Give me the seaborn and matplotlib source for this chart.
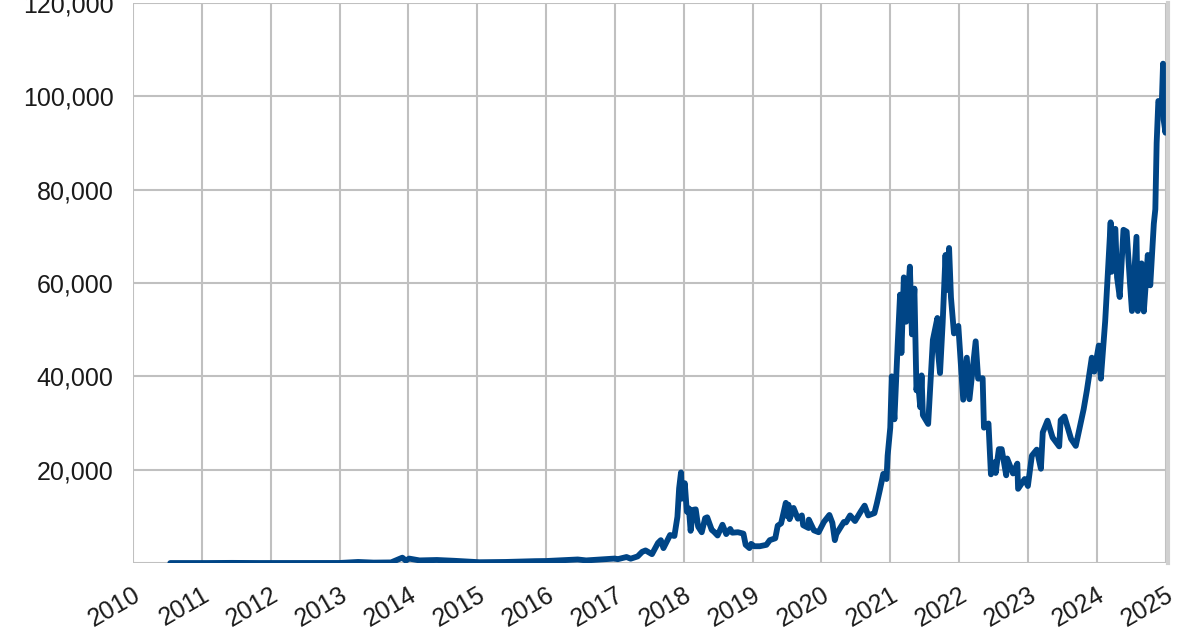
# Bitcoin price line chart (USD), 2010 - 2025
import pandas as pd
import numpy as np
import matplotlib.pyplot as plt
import matplotlib.dates as mdates
import seaborn as sns

# Dates and closing prices
dates = [
    "2010-07-18", "2011-02-01", "2011-06-08", "2011-11-01", "2012-08-15", "2013-01-01",
    "2013-04-09", "2013-07-01", "2013-10-01", "2013-11-30", "2013-12-18", "2014-01-05",
    "2014-03-01", "2014-06-01", "2014-09-01", "2015-01-14", "2015-06-01", "2015-11-04",
    "2016-01-01", "2016-06-17", "2016-08-01", "2016-12-31",
    "2017-01-15", "2017-03-03", "2017-03-25", "2017-05-01", "2017-05-25", "2017-06-12",
    "2017-07-16", "2017-08-17", "2017-09-01", "2017-09-15", "2017-10-20", "2017-11-12",
    "2017-11-28", "2017-12-07", "2017-12-17", "2017-12-22",
    "2018-01-06", "2018-01-17", "2018-01-28", "2018-02-06", "2018-02-20", "2018-03-05",
    "2018-03-18", "2018-04-06", "2018-04-24", "2018-05-05", "2018-05-29", "2018-06-10",
    "2018-06-29", "2018-07-25", "2018-08-14", "2018-09-04", "2018-09-15", "2018-10-15",
    "2018-11-13", "2018-11-25", "2018-12-15", "2018-12-24",
    "2019-01-10", "2019-02-08", "2019-03-15", "2019-04-02", "2019-05-01", "2019-05-14",
    "2019-06-01", "2019-06-26", "2019-07-02", "2019-07-10", "2019-07-16", "2019-08-06",
    "2019-08-29", "2019-09-19", "2019-09-26", "2019-10-25", "2019-10-26", "2019-11-22",
    "2019-12-17",
    "2020-01-14", "2020-02-12", "2020-02-28", "2020-03-12", "2020-03-20", "2020-04-29",
    "2020-05-10", "2020-06-01", "2020-06-27", "2020-07-27", "2020-08-17", "2020-09-05",
    "2020-10-08", "2020-10-21", "2020-11-05", "2020-11-24", "2020-12-11", "2020-12-17",
    "2020-12-31",
    "2021-01-08", "2021-01-22", "2021-02-08", "2021-02-21", "2021-02-28", "2021-03-13",
    "2021-03-25", "2021-04-14", "2021-04-25", "2021-05-08", "2021-05-19", "2021-05-26",
    "2021-06-08", "2021-06-15", "2021-06-22", "2021-07-20", "2021-08-14", "2021-08-23",
    "2021-09-07", "2021-09-08", "2021-09-21", "2021-10-05", "2021-10-20", "2021-10-27",
    "2021-11-08", "2021-11-18", "2021-12-04", "2021-12-27",
    "2022-01-22", "2022-02-10", "2022-02-24", "2022-03-29", "2022-04-11", "2022-05-05",
    "2022-05-12", "2022-06-05", "2022-06-18", "2022-07-08", "2022-07-13", "2022-07-30",
    "2022-08-14", "2022-09-07", "2022-09-12", "2022-10-13", "2022-11-05", "2022-11-09",
    "2022-12-14", "2022-12-31",
    "2023-01-21", "2023-02-16", "2023-03-10", "2023-03-20", "2023-04-14", "2023-05-11",
    "2023-06-15", "2023-06-23", "2023-07-13", "2023-08-17", "2023-09-11", "2023-10-23",
    "2023-11-09", "2023-12-05", "2023-12-18",
    "2024-01-11", "2024-01-22", "2024-02-14", "2024-02-28", "2024-03-14", "2024-03-19",
    "2024-03-26", "2024-04-08", "2024-04-17", "2024-05-01", "2024-05-21", "2024-06-07",
    "2024-06-24", "2024-07-05", "2024-07-29", "2024-08-05", "2024-08-25", "2024-09-06",
    "2024-09-27", "2024-10-10", "2024-10-29", "2024-11-06", "2024-11-13", "2024-11-22",
    "2024-12-05", "2024-12-09", "2024-12-17", "2024-12-20", "2024-12-30",
    "2025-01-06", "2025-01-09", "2025-01-12",
]
prices = [
    0.09, 1, 30, 3, 13, 13,
    230, 90, 130, 1150, 520, 950,
    560, 650, 480, 170, 230, 400,
    430, 760, 560, 960,
    820, 1290, 930, 1420, 2400, 2700,
    1900, 4300, 4900, 3200, 6000, 5800,
    9900, 16000, 19400, 13800,
    17100, 11000, 11700, 6900, 11400, 11500,
    7800, 6600, 9600, 9800, 7100, 6700,
    5900, 8200, 6200, 7300, 6500, 6600,
    6300, 3900, 3200, 4100,
    3600, 3600, 3900, 4900, 5300, 8000,
    8500, 12900, 10100, 12500, 9400, 11800,
    9500, 10200, 8100, 7500, 9300, 7000,
    6600,
    8800, 10300, 8600, 4900, 6200, 8800,
    8700, 10200, 9000, 11000, 12300, 10200,
    10700, 12800, 15500, 19100, 18000, 23000,
    29000,
    40000, 30800, 46500, 57500, 45000, 61200,
    51700, 63500, 49000, 58800, 37000, 39500,
    33400, 40200, 31700, 29800, 47800, 49600,
    52500, 46300, 40700, 51500, 66000, 58500,
    67500, 56900, 49200, 50800,
    35000, 44000, 35100, 47500, 39500, 39600,
    29000, 29900, 19000, 21600, 19300, 24400,
    24400, 18800, 22400, 19200, 21300, 15900,
    18000, 16500,
    23000, 24300, 20200, 28000, 30500, 26900,
    25000, 30600, 31400, 26600, 25100, 33000,
    37000, 44000, 41000,
    46600, 39500, 51800, 62000, 73000, 62400,
    71000, 71600, 61200, 57000, 71400, 71000,
    60300, 54000, 69900, 54000, 64200, 53900,
    66000, 59500, 72700, 75800, 90000, 99000,
    98000, 97000, 107000, 95000, 92200,
    102000, 92500, 94500,
]

# Axis ticks and labels
year_ticks = list(range(2010, 2026))
y_ticks = [0, 20000, 40000, 60000, 80000, 100000, 120000]
y_labels = ["", "20,000", "40,000", "60,000", "80,000", "100,000", "120,000"]

df = pd.DataFrame({"date": pd.to_datetime(dates), "price": prices})

sns.set_style("whitegrid")
plt.rcParams["font.family"] = ["Liberation Sans", "DejaVu Sans"]

fig = plt.figure(figsize=(12, 6.3), dpi=100)
ax = fig.add_axes([0.1108, 0.1063, 0.8625, 0.889])

sns.lineplot(data=df, x="date", y="price", ax=ax, color="#004586", linewidth=4.2,
             solid_joinstyle="round", solid_capstyle="round")

# axis ranges
ax.set_xlim(pd.Timestamp("2010-01-01"), pd.Timestamp("2025-01-12"))
ax.set_ylim(0, 120000)

# x axis: one tick per year, rotated labels
ax.set_xticks([pd.Timestamp(f"{y}-01-01") for y in year_ticks])
ax.xaxis.set_major_formatter(mdates.DateFormatter("%Y"))
plt.setp(ax.get_xticklabels(), rotation=30, ha="right", rotation_mode="anchor")

ax.set_yticks(y_ticks)
ax.set_yticklabels(y_labels)

ax.set_xlabel("")
ax.set_ylabel("")

# grid and ticks in light grey
ax.grid(True, color="#c0c0c0", linewidth=1.5)
ax.tick_params(axis="both", which="major", length=10, width=1.5, color="#c0c0c0",
               labelsize=18, labelcolor="#1a1a1a", pad=4)
for side in ["top", "left", "bottom"]:
    ax.spines[side].set_visible(False)
ax.spines["right"].set_color("#d0d0d0")
ax.spines["right"].set_linewidth(3)

plt.savefig("out.png", dpi=100)
